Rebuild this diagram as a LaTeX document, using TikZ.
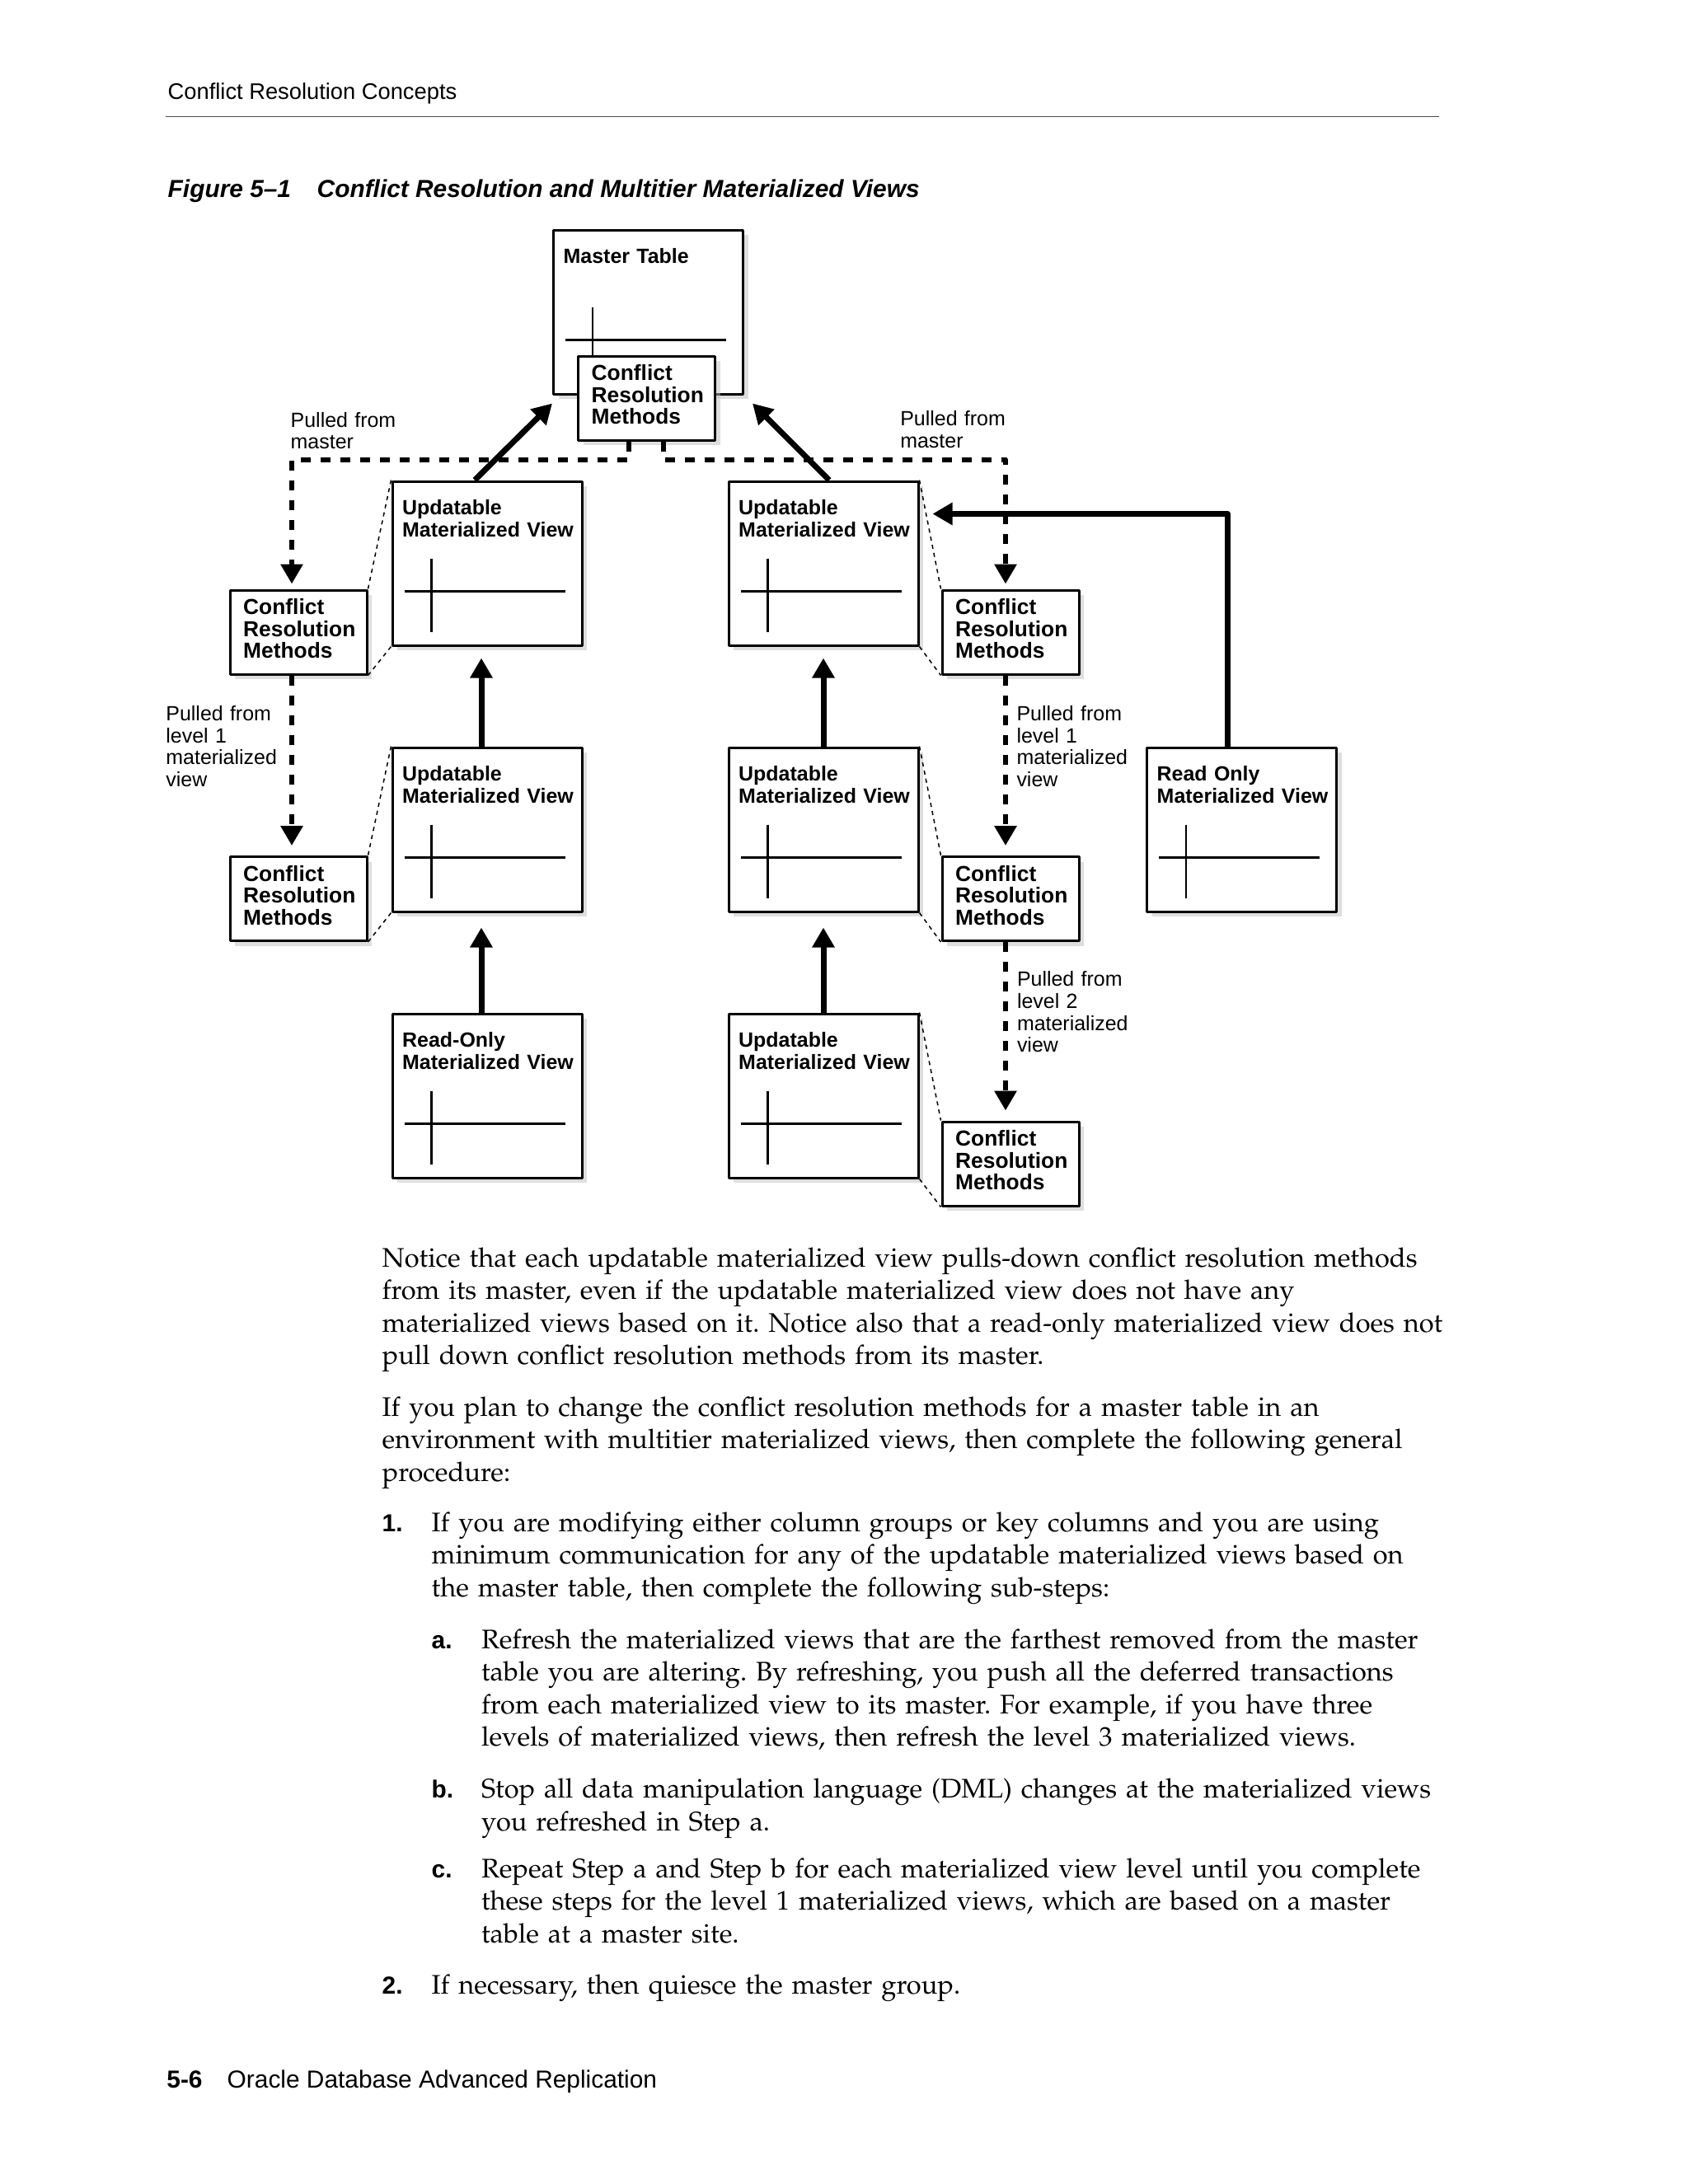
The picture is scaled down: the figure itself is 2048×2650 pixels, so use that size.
\documentclass[tikz,border=0pt]{standalone}
\usepackage[T1,TU]{fontenc}
\usepackage{fontspec}
\newfontfamily\hv{Liberation Sans}
\usepackage{tikz}
\usetikzlibrary{arrows.meta,shadows}

\newcommand\palfont{\fontencoding{T1}\fontfamily{ppl}\fontsize{9.28}{11.24}\selectfont\frenchspacing}

\tikzset{
  mvbox/.style={draw, line width=0.3mm, fill=white, minimum width=23mm, minimum height=19.9mm,
    drop shadow={shadow xshift=0.6mm, shadow yshift=-0.6mm, fill=black!25}},
  crmbox/.style={mvbox, minimum width=16.6mm, minimum height=10.2mm},
  boxlabel/.style={font=\hv\bfseries\fontsize{7.1}{7.6}\selectfont, anchor=base west, inner sep=0pt, align=left, text width=30mm},
  crmlabel/.style={boxlabel, font=\hv\bfseries\fontsize{7.5}{7.6}\selectfont},
  pulllabel/.style={font=\hv\fontsize{7.1}{7.6}\selectfont, anchor=base west, inner sep=0pt, align=left, text width=30mm},
  bodytext/.style={font=\palfont, anchor=base west, inner sep=0pt, align=left, text width=160mm},
  listlabel/.style={font=\hv\bfseries\fontsize{8.5}{9}\selectfont, anchor=base west, inner sep=0pt},
  pagetext/.style={font=\hv\fontsize{#1}{10}\selectfont, anchor=base west, inner sep=0pt},
  tablerule/.style={line width=0.25mm},
  pullarrow/.style={line width=0.6mm, dash pattern=on 1.2mm off 1.2mm, -{Triangle[length=2.4mm,width=2.6mm]}},
  pusharrow/.style={line width=0.7mm, -{Triangle[length=2.4mm,width=2.6mm]}},
  sideline/.style={line width=0.15mm, dash pattern=on 0.5mm off 0.5mm}
}

% materialized view / table box: name, x, y, label
\newcommand\mview[4]{%
  \node[mvbox] (#1) at (#2,#3) {};
  \node[boxlabel] (#1-txt) at ([shift={(13,42)}]#1.north west) {#4};
  \draw[tablerule] ([shift={(49,95)}]#1.north west) -- ++(0,89);
  \draw[tablerule] ([shift={(16,135)}]#1.north west) -- ++(195,0);
}
% conflict resolution methods box: name, x, y
\newcommand\crm[3]{%
  \node[crmbox] (#1) at (#2,#3) {};
  \node[crmlabel] (#1-txt) at ([shift={(17,31)}]#1.north west) {Conflict\\Resolution\\Methods};
}

\begin{document}
\begin{tikzpicture}[x=0.1mm, y=-0.1mm, line join=round]
  \useasboundingbox (0,0) rectangle (2048,2650);
  \fill[white] (0,0) rectangle (2048,2650);

  % page header
  \node[pagetext=7.77] (header) at (203,120.7) {Conflict Resolution Concepts};
  \draw[line width=0.15mm, black!70] (201,141.7) -- (1746,141.7);
  \node[pagetext=8.5, font=\hv\bfseries\itshape\fontsize{8.5}{10}\selectfont] (figno) at (203,239.3) {Figure 5–1};
  \node[pagetext=8.5, font=\hv\bfseries\itshape\fontsize{8.5}{10}\selectfont] (figtitle) at (384,239.3) {Conflict Resolution and Multitier Materialized Views};

  % master site
  \mview{master}{786.5}{378.5}{Master Table}
  \crm{mcrm}{784.5}{483}

  % level 1, 2, 3 materialized views
  \mview{u1}{591}{683.5}{Updatable\\Materialized View}
  \mview{u2}{591}{1006.5}{Updatable\\Materialized View}
  \mview{ro1}{591}{1329.5}{Read-Only\\Materialized View}
  \mview{v1}{999}{683.5}{Updatable\\Materialized View}
  \mview{v2}{999}{1006.5}{Updatable\\Materialized View}
  \mview{v3}{999}{1329.5}{Updatable\\Materialized View}
  \mview{ro2}{1506.5}{1006.5}{Read Only\\Materialized View}

  % pulled down conflict resolution methods
  \crm{lc1}{362}{767}
  \crm{lc2}{362}{1090.5}
  \crm{rc1}{1226}{767}
  \crm{rc2}{1226}{1090.5}
  \crm{rc3}{1226}{1412}

  % side lines
  \draw[sideline] (u1.north west) -- (lc1.north east);
  \draw[sideline] (u1.south west) -- (lc1.south east);
  \draw[sideline] (u2.north west) -- (lc2.north east);
  \draw[sideline] (u2.south west) -- (lc2.south east);
  \draw[sideline] (v1.north east) -- (rc1.north west);
  \draw[sideline] (v1.south east) -- (rc1.south west);
  \draw[sideline] (v2.north east) -- (rc2.north west);
  \draw[sideline] (v2.south east) -- (rc2.south west);
  \draw[sideline] (v3.north east) -- (rc3.north west);
  \draw[sideline] (v3.south east) -- (rc3.south west);

  % dashed pulls
  \draw[pullarrow] ([shift={(-21.5,0)}]mcrm.south) -- ++(0,22) -| ([shift={(-8,-6)}]lc1.north);
  \draw[pullarrow] ([shift={(20,0)}]mcrm.south) -- ++(0,22) -| ([shift={(-6,-6)}]rc1.north);
  \draw[pullarrow] ([shift={(-8,0)}]lc1.south) -- ([shift={(-8,-12)}]lc2.north);
  \draw[pullarrow] ([shift={(-6,0)}]rc1.south) -- ([shift={(-6,-12)}]rc2.north);
  \draw[pullarrow] ([shift={(-6,0)}]rc2.south) -- ([shift={(-6,-12)}]rc3.north);

  \node[pulllabel] (pm-left) at (352,518) {Pulled from\\master};
  \node[pulllabel] (pm-right) at (1091.6,516.7) {Pulled from\\master};
  \node[pulllabel] (pl1-left) at (200.7,874.3) {Pulled from\\level 1\\materialized\\view};
  \node[pulllabel] (pl1-right) at (1232.8,874.3) {Pulled from\\level 1\\materialized\\view};
  \node[pulllabel] (pl2-right) at (1233.3,1196.7) {Pulled from\\level 2\\materialized\\view};

  % pushes to the masters
  \draw[pusharrow] ([shift={(-15,0)}]u1.north) -- ([shift={(0,10)}]master.south west);
  \draw[pusharrow] ([shift={(7,0)}]v1.north) -- ([shift={(10,10)}]master.south east);
  \draw[pusharrow] ([shift={(-7,0)}]u2.north) -- ([shift={(-7,14)}]u1.south);
  \draw[pusharrow] ([shift={(-7,0)}]ro1.north) -- ([shift={(-7,18)}]u2.south);
  \draw[pusharrow] (v2.north) -- ([shift={(0,14)}]v1.south);
  \draw[pusharrow] (v3.north) -- ([shift={(0,18)}]v2.south);
  \draw[pusharrow] ([shift={(-17,0)}]ro2.north) |- ([shift={(16,-60)}]v1.east);

  % body text
  \node[bodytext] (para1) at (463,1537.3) {Notice that each updatable materialized view pulls-down conflict resolution methods\\
    from its master, even if the updatable materialized view does not have any\\
    materialized views based on it. Notice also that a read-only materialized view does not\\
    pull down conflict resolution methods from its master.};
  \node[bodytext] (para2) at (463,1718.3) {If you plan to change the conflict resolution methods for a master table in an\\
    environment with multitier materialized views, then complete the following general\\
    procedure:};
  \node[listlabel] (n1) at (463,1858.3) {1.};
  \node[bodytext] (step1) at (523,1858.3) {If you are modifying either column groups or key columns and you are using\\
    minimum communication for any of the updatable materialized views based on\\
    the master table, then complete the following sub-steps:};
  \node[listlabel] (na) at (523,2000) {a.};
  \node[bodytext] (stepa) at (583.3,2000) {Refresh the materialized views that are the farthest removed from the master\\
    table you are altering. By refreshing, you push all the deferred transactions\\
    from each materialized view to its master. For example, if you have three\\
    levels of materialized views, then refresh the level 3 materialized views.};
  \node[listlabel] (nb) at (523,2181.7) {b.};
  \node[bodytext] (stepb) at (583.3,2181.7) {Stop all data manipulation language (DML) changes at the materialized views\\
    you refreshed in Step a.};
  \node[listlabel] (nc) at (523,2278.3) {c.};
  \node[bodytext] (stepc) at (583.3,2278.3) {Repeat Step a and Step b for each materialized view level until you complete\\
    these steps for the level 1 materialized views, which are based on a master\\
    table at a master site.};
  \node[listlabel] (n2) at (463,2419.3) {2.};
  \node[bodytext] (step2) at (523,2419.3) {If necessary, then quiesce the master group.};

  % page footer
  \node[pagetext=8.5, font=\hv\bfseries\fontsize{8.5}{10}\selectfont] (pageno) at (201.7,2533.3) {5-6};
  \node[pagetext=8.5] (booktitle) at (275,2533.3) {Oracle Database Advanced Replication};
\end{tikzpicture}
\end{document}
